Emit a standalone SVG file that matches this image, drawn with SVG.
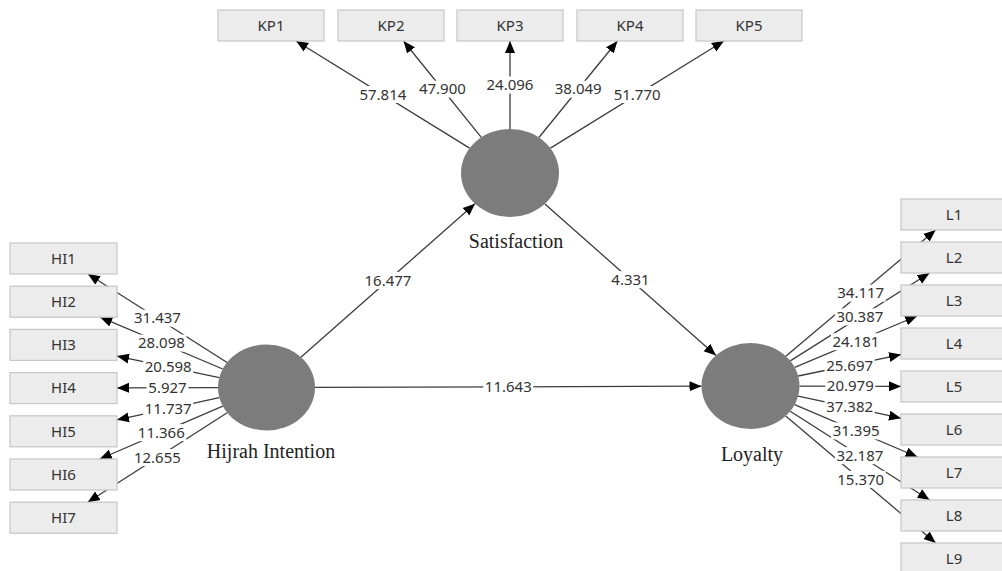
<svg xmlns="http://www.w3.org/2000/svg" width="1002" height="571" viewBox="0 0 1002 571">
<style>
.box{fill:#ececec;stroke:#c6c6c6;stroke-width:1.2}
.bt{font-family:"Noto Sans","Open Sans",sans-serif;font-size:15px;fill:#333;text-anchor:middle}
.lv{fill:#7c7c7c}
.lt{font-family:"Liberation Serif","Times New Roman",serif;font-size:20px;fill:#222;text-anchor:middle}
.ln{stroke:#3c3c3c;stroke-width:1.3;fill:none;marker-end:url(#ah)}
.wb{fill:#fff}
.wt{font-family:"Noto Sans","Open Sans",sans-serif;font-size:15px;fill:#333;text-anchor:middle}
</style>
<defs>
<marker id="ah" markerUnits="userSpaceOnUse" markerWidth="12" markerHeight="11" viewBox="0 0 12 10" refX="12" refY="5" orient="auto">
<path d="M0,0 L12,5 L0,10 z" fill="#000"/>
</marker>
</defs>
<rect width="1002" height="571" fill="#fff"/>

<g id="connectors">
<line class="ln" x1="227.1" y1="362.5" x2="87.9" y2="274.0"/>
<line class="ln" x1="222.7" y1="369.0" x2="100.2" y2="317.2"/>
<line class="ln" x1="219.3" y1="377.6" x2="117.0" y2="356.1"/>
<line class="ln" x1="218.0" y1="387.6" x2="117.0" y2="387.9"/>
<line class="ln" x1="219.4" y1="397.7" x2="117.0" y2="419.8"/>
<line class="ln" x1="222.8" y1="406.2" x2="99.7" y2="459.0"/>
<line class="ln" x1="227.2" y1="412.7" x2="87.7" y2="502.2"/>
<line class="ln" x1="469.6" y1="148.1" x2="296.1" y2="41.0"/>
<line class="ln" x1="481.3" y1="137.4" x2="403.5" y2="41.0"/>
<line class="ln" x1="510" y1="129" x2="510" y2="41"/>
<line class="ln" x1="538.9" y1="137.5" x2="617.4" y2="41.0"/>
<line class="ln" x1="550.4" y1="148.1" x2="723.9" y2="41.0"/>
<line class="ln" x1="785.8" y1="356.2" x2="935.6" y2="230.0"/>
<line class="ln" x1="790.3" y1="360.9" x2="929.5" y2="273.0"/>
<line class="ln" x1="794.7" y1="367.4" x2="917.1" y2="316.0"/>
<line class="ln" x1="798.2" y1="376.0" x2="901.0" y2="354.6"/>
<line class="ln" x1="799.5" y1="386.1" x2="901.0" y2="386.4"/>
<line class="ln" x1="798.1" y1="396.2" x2="901.0" y2="418.2"/>
<line class="ln" x1="794.6" y1="404.7" x2="917.5" y2="457.0"/>
<line class="ln" x1="790.2" y1="411.2" x2="929.6" y2="500.0"/>
<line class="ln" x1="785.7" y1="415.9" x2="935.7" y2="543.0"/>
<line class="ln" x1="300.9" y1="357.2" x2="475.0" y2="203.8"/>
<line class="ln" x1="544.9" y1="203.9" x2="716.0" y2="355.5"/>
<line class="ln" x1="315.0" y1="387.4" x2="701.5" y2="386.2"/>

<g id="edge-labels">
<rect class="wb" x="132.5" y="309.7" width="50" height="17"/><text class="wt" x="157.5" y="323.4">31.437</text>
<rect class="wb" x="136.4" y="334.6" width="50" height="17"/><text class="wt" x="161.4" y="348.3">28.098</text>
<rect class="wb" x="143.2" y="358.4" width="50" height="17"/><text class="wt" x="168.2" y="372.1">20.598</text>
<rect class="wb" x="146.5" y="379.3" width="42" height="17"/><text class="wt" x="167.5" y="393.0">5.927</text>
<rect class="wb" x="143.2" y="400.2" width="50" height="17"/><text class="wt" x="168.2" y="413.9">11.737</text>
<rect class="wb" x="136.3" y="424.1" width="50" height="17"/><text class="wt" x="161.3" y="437.8">11.366</text>
<rect class="wb" x="132.4" y="449.0" width="50" height="17"/><text class="wt" x="157.4" y="462.7">12.655</text>

<rect class="wb" x="357.9" y="86.0" width="50" height="17"/><text class="wt" x="382.9" y="99.7">57.814</text>
<rect class="wb" x="417.4" y="80.7" width="50" height="17"/><text class="wt" x="442.4" y="94.4">47.900</text>
<rect class="wb" x="485" y="76.5" width="50" height="17"/><text class="wt" x="510" y="90.2">24.096</text>
<rect class="wb" x="553.2" y="80.7" width="50" height="17"/><text class="wt" x="578.2" y="94.4">38.049</text>
<rect class="wb" x="612.1" y="86.0" width="50" height="17"/><text class="wt" x="637.1" y="99.7">51.770</text>

<rect class="wb" x="835.7" y="284.6" width="50" height="17"/><text class="wt" x="860.7" y="298.3">34.117</text>
<rect class="wb" x="834.9" y="308.4" width="50" height="17"/><text class="wt" x="859.9" y="322.1">30.387</text>
<rect class="wb" x="830.9" y="333.2" width="50" height="17"/><text class="wt" x="855.9" y="346.9">24.181</text>
<rect class="wb" x="824.6" y="356.8" width="50" height="17"/><text class="wt" x="849.6" y="370.5">25.697</text>
<rect class="wb" x="825.3" y="377.7" width="50" height="17"/><text class="wt" x="850.3" y="391.4">20.979</text>
<rect class="wb" x="824.6" y="398.7" width="50" height="17"/><text class="wt" x="849.6" y="412.4">37.382</text>
<rect class="wb" x="831.1" y="422.4" width="50" height="17"/><text class="wt" x="856.1" y="436.1">31.395</text>
<rect class="wb" x="834.9" y="447.1" width="50" height="17"/><text class="wt" x="859.9" y="460.8">32.187</text>
<rect class="wb" x="835.7" y="470.9" width="50" height="17"/><text class="wt" x="860.7" y="484.6">15.370</text>

<rect class="wb" x="363.0" y="272.0" width="50" height="17"/><text class="wt" x="388.0" y="285.7">16.477</text>
<rect class="wb" x="609.5" y="271.2" width="42" height="17"/><text class="wt" x="630.5" y="284.9">4.331</text>
<rect class="wb" x="483.3" y="378.3" width="50" height="17"/><text class="wt" x="508.3" y="392.0">11.643</text>
</g>
</g>

<g id="hijrah-intention"><ellipse class="lv" cx="266.5" cy="387.5" rx="48.5" ry="43"/><text class="lt" x="271" y="458">Hijrah Intention</text></g>
<g id="satisfaction"><ellipse class="lv" cx="510" cy="173" rx="49" ry="44"/><text class="lt" x="516" y="248">Satisfaction</text></g>
<g id="loyalty"><ellipse class="lv" cx="750.5" cy="386" rx="49" ry="43"/><text class="lt" x="752" y="461">Loyalty</text></g>

<g id="KP1"><rect class="box" x="218" y="10" width="106" height="31"/><text class="bt" x="271" y="30.8">KP1</text></g>
<g id="KP2"><rect class="box" x="338" y="10" width="106" height="31"/><text class="bt" x="391" y="30.8">KP2</text></g>
<g id="KP3"><rect class="box" x="457" y="10" width="106" height="31"/><text class="bt" x="510" y="30.8">KP3</text></g>
<g id="KP4"><rect class="box" x="577" y="10" width="106" height="31"/><text class="bt" x="630" y="30.8">KP4</text></g>
<g id="KP5"><rect class="box" x="696" y="10" width="106" height="31"/><text class="bt" x="749" y="30.8">KP5</text></g>

<g id="HI1"><rect class="box" x="10" y="243" width="107" height="31"/><text class="bt" x="63.5" y="263.8">HI1</text></g>
<g id="HI2"><rect class="box" x="10" y="286.2" width="107" height="31"/><text class="bt" x="63.5" y="307.0">HI2</text></g>
<g id="HI3"><rect class="box" x="10" y="329.4" width="107" height="31"/><text class="bt" x="63.5" y="350.2">HI3</text></g>
<g id="HI4"><rect class="box" x="10" y="372.6" width="107" height="31"/><text class="bt" x="63.5" y="393.4">HI4</text></g>
<g id="HI5"><rect class="box" x="10" y="415.8" width="107" height="31"/><text class="bt" x="63.5" y="436.6">HI5</text></g>
<g id="HI6"><rect class="box" x="10" y="459" width="107" height="31"/><text class="bt" x="63.5" y="479.8">HI6</text></g>
<g id="HI7"><rect class="box" x="10" y="502.2" width="107" height="31"/><text class="bt" x="63.5" y="523.0">HI7</text></g>

<g id="L1"><rect class="box" x="901" y="199" width="106" height="31"/><text class="bt" x="954" y="219.8">L1</text></g>
<g id="L2"><rect class="box" x="901" y="242" width="106" height="31"/><text class="bt" x="954" y="262.8">L2</text></g>
<g id="L3"><rect class="box" x="901" y="285" width="106" height="31"/><text class="bt" x="954" y="305.8">L3</text></g>
<g id="L4"><rect class="box" x="901" y="328" width="106" height="31"/><text class="bt" x="954" y="348.8">L4</text></g>
<g id="L5"><rect class="box" x="901" y="371" width="106" height="31"/><text class="bt" x="954" y="391.8">L5</text></g>
<g id="L6"><rect class="box" x="901" y="414" width="106" height="31"/><text class="bt" x="954" y="434.8">L6</text></g>
<g id="L7"><rect class="box" x="901" y="457" width="106" height="31"/><text class="bt" x="954" y="477.8">L7</text></g>
<g id="L8"><rect class="box" x="901" y="500" width="106" height="31"/><text class="bt" x="954" y="520.8">L8</text></g>
<g id="L9"><rect class="box" x="901" y="543" width="106" height="31"/><text class="bt" x="954" y="563.8">L9</text></g>
</svg>
